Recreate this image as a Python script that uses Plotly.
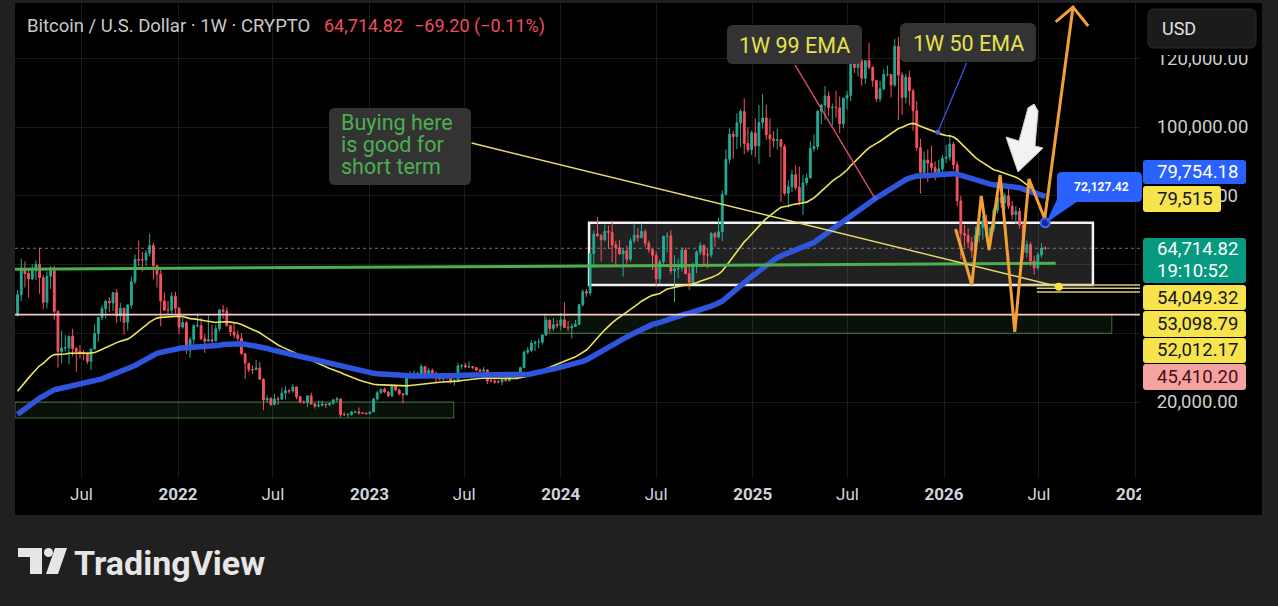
import pandas as pd
import plotly.graph_objects as go

# ---------------- weekly BTC/USD candles (values in thousand USD) ----------------
first_week = "2021-03-01"
first_open_k = 45.2

close_2021 = [51.2, 59.0, 57.4, 55.8, 58.2, 60.0, 56.2, 49.0, 56.6, 58.2,
              46.4, 34.7, 35.7, 35.8, 39.1, 35.5, 34.7, 34.2, 34.2, 31.8,
              35.4, 39.9, 44.6, 47.1, 49.3, 48.8, 51.8, 45.0, 47.3, 43.2,
              48.2, 55.0, 61.5, 61.3, 61.3, 63.3, 65.5, 59.7, 57.2, 49.4,
              46.7, 46.7, 50.8, 47.3]
high_2021 = [52.6, 61.7, 60.9, 58.4, 60.1, 61.2, 64.9, 57.0, 58.0, 59.5,
             59.6, 46.6, 40.8, 39.5, 39.3, 41.3, 36.1, 36.6, 35.1, 34.6,
             35.5, 42.6, 44.8, 48.1, 49.8, 50.5, 52.0, 52.9, 48.8, 47.4,
             48.5, 56.5, 62.9, 67.0, 63.7, 64.2, 69.0, 66.3, 59.8, 59.2,
             51.9, 49.4, 51.9, 52.1]
low_2021 = [44.9, 49.3, 53.3, 50.4, 55.5, 55.5, 51.5, 47.0, 47.2, 52.9,
            43.8, 30.0, 31.2, 34.7, 31.0, 33.3, 28.8, 32.7, 32.1, 31.0,
            29.3, 35.3, 37.5, 43.8, 44.4, 46.3, 46.5, 43.0, 43.4, 39.6,
            40.8, 47.1, 54.3, 59.6, 58.0, 59.5, 62.3, 55.6, 53.3, 42.0,
            46.5, 45.6, 45.6, 45.7]

close_2022 = [41.8, 43.1, 35.1, 38.2, 42.2, 42.2, 38.4, 37.7, 38.1, 37.8,
              41.3, 46.8, 46.4, 42.2, 40.4, 39.5, 38.5, 34.1, 31.3, 29.4,
              29.4, 29.9, 26.6, 20.6, 21.0, 19.3, 20.9, 20.8, 22.6, 23.3,
              23.2, 24.4, 21.5, 20.0, 19.8, 21.8, 19.4, 18.8, 19.0, 19.4,
              19.2, 19.6, 20.6, 20.9, 16.3, 16.3, 16.4, 17.1, 17.1, 16.8,
              16.8, 16.6]
high_2022 = [47.6, 44.5, 43.5, 38.9, 42.6, 45.8, 44.5, 39.8, 45.4, 42.5,
             42.4, 47.0, 48.2, 47.5, 42.4, 42.9, 40.8, 40.0, 34.3, 30.7,
             30.6, 32.2, 31.6, 26.9, 21.9, 21.5, 22.4, 21.6, 24.2, 24.6,
             23.7, 25.2, 24.4, 21.8, 20.5, 21.8, 22.7, 19.7, 20.4, 20.4,
             19.5, 19.7, 21.0, 21.5, 21.0, 17.1, 16.8, 17.3, 17.4, 18.4,
             17.0, 16.9]
low_2022 = [39.7, 41.3, 34.0, 32.9, 36.3, 41.7, 38.0, 34.3, 37.5, 37.2,
            37.6, 40.5, 44.2, 42.0, 39.2, 38.5, 37.7, 33.7, 26.7, 28.7,
            28.1, 29.3, 26.6, 17.6, 19.8, 18.8, 19.0, 19.2, 20.8, 20.7,
            22.4, 22.7, 20.8, 19.6, 19.6, 18.5, 19.3, 18.1, 18.5, 19.0,
            18.2, 18.7, 19.2, 20.1, 15.6, 16.0, 15.5, 16.0, 16.7, 16.3,
            16.5, 16.4]

close_2023 = [17.1, 20.9, 22.7, 23.7, 22.9, 21.8, 24.6, 23.5, 22.4, 22.1,
              28.0, 27.9, 28.2, 28.3, 30.3, 27.6, 29.2, 28.4, 26.9, 26.7,
              28.1, 27.1, 25.9, 26.3, 30.5, 30.6, 30.2, 30.3, 30.0, 29.3,
              29.0, 29.3, 26.1, 26.1, 25.8, 25.8, 26.5, 26.2, 27.9, 27.9,
              27.1, 30.0, 34.5, 35.0, 37.1, 37.4, 37.4, 39.5, 43.8, 41.4,
              42.5, 42.3]
high_2023 = [17.2, 21.1, 23.3, 23.9, 24.2, 23.2, 25.2, 25.1, 23.9, 22.6,
             28.4, 28.9, 29.2, 28.8, 31.0, 30.5, 30.0, 29.8, 28.8, 27.6,
             28.2, 28.4, 27.4, 26.8, 31.4, 31.0, 31.4, 31.8, 30.4, 30.0,
             29.7, 30.2, 29.5, 26.8, 28.1, 26.4, 26.9, 27.5, 28.0, 28.6,
             28.0, 30.3, 35.0, 35.9, 38.0, 37.9, 38.4, 39.7, 44.7, 44.0,
             44.4, 43.8]
low_2023 = [16.5, 17.1, 20.4, 22.3, 22.6, 21.4, 21.4, 23.1, 21.9, 19.6,
            21.9, 26.6, 26.6, 27.3, 28.2, 27.1, 26.9, 27.7, 25.8, 26.3,
            25.9, 26.5, 25.4, 24.8, 26.2, 29.6, 29.8, 29.9, 29.6, 28.9,
            28.6, 28.7, 25.2, 25.8, 25.3, 25.4, 24.9, 26.0, 26.0, 27.2,
            26.6, 26.9, 29.9, 33.9, 34.5, 34.8, 35.6, 36.7, 39.2, 40.2,
            40.6, 41.5]

close_2024 = [43.9, 41.7, 41.6, 42.0, 42.6, 48.3, 52.1, 51.7, 63.1, 68.9,
              68.4, 67.2, 69.6, 69.4, 65.7, 64.9, 63.1, 64.0, 61.5, 66.9,
              68.5, 67.8, 69.6, 66.2, 64.3, 62.7, 55.8, 60.8, 68.2, 68.3,
              58.1, 58.7, 59.0, 64.2, 57.3, 54.8, 59.9, 63.6, 65.6, 62.8,
              62.8, 69.0, 68.0, 69.5, 80.4, 90.6, 97.9, 97.2, 101.2, 104.5,
              95.2, 93.4, 98.3]
high_2024 = [45.9, 49.0, 43.6, 42.8, 43.9, 48.6, 52.8, 52.9, 64.0, 70.0,
             73.8, 68.9, 71.6, 71.3, 72.8, 66.9, 67.2, 64.7, 65.5, 67.7,
             71.9, 70.6, 71.9, 70.2, 66.9, 64.5, 63.8, 61.4, 68.4, 69.4,
             70.0, 62.7, 61.8, 65.0, 64.9, 59.8, 60.6, 64.1, 66.5, 65.6,
             64.5, 69.5, 69.5, 73.6, 81.5, 93.5, 99.6, 98.9, 104.0, 105.2,
             108.3, 99.9, 99.0]
low_2024 = [40.8, 41.5, 40.6, 38.5, 41.8, 42.5, 47.7, 50.6, 50.9, 59.0,
            68.0, 60.8, 66.6, 64.5, 60.7, 59.7, 62.8, 56.5, 60.2, 60.7,
            66.1, 66.6, 67.6, 65.1, 63.4, 58.4, 53.5, 54.3, 59.7, 63.5,
            57.1, 49.1, 56.1, 57.9, 57.2, 52.6, 54.6, 57.5, 62.7, 59.8,
            58.9, 62.0, 65.1, 67.5, 66.8, 80.2, 89.4, 90.8, 93.6, 94.2,
            92.2, 92.6, 91.9]

close_2025 = [94.5, 101.3, 102.6, 97.7, 96.5, 96.1, 96.3, 94.3, 80.7, 82.6,
              86.1, 82.4, 78.4, 83.8, 85.2, 93.7, 94.3, 104.6, 106.4, 109.0,
              105.6, 105.7, 105.6, 100.9, 108.4, 109.2, 119.1, 117.3, 119.4, 114.2,
              119.3, 117.4, 113.5, 108.2, 111.1, 115.3, 115.3, 112.2, 123.5, 115.1,
              108.6, 114.5, 110.5, 104.7, 94.0, 86.8, 90.4, 89.5, 88.2, 86.3,
              87.8, 90.9]
high_2025 = [102.5, 106.4, 109.6, 106.5, 102.5, 98.8, 99.5, 96.5, 95.0, 84.5,
             87.5, 88.8, 88.5, 86.1, 86.5, 95.8, 97.9, 104.9, 106.8, 111.9,
             110.4, 106.8, 110.5, 108.9, 108.5, 110.5, 119.5, 123.2, 120.2, 119.8,
             119.4, 124.5, 117.6, 113.8, 113.4, 116.7, 117.9, 115.4, 125.6, 126.2,
             115.9, 115.5, 116.4, 111.2, 107.5, 96.6, 92.9, 93.5, 94.6, 90.0,
             90.5, 91.8]
low_2025 = [91.2, 89.2, 99.5, 96.2, 91.2, 94.1, 93.4, 78.2, 80.0, 76.6,
            81.1, 81.6, 77.2, 74.5, 83.1, 85.1, 92.8, 93.4, 100.7, 102.1,
            103.1, 100.4, 102.7, 98.2, 99.6, 105.1, 107.5, 115.7, 114.7, 112.0,
            112.6, 116.8, 111.7, 107.3, 107.3, 110.7, 114.7, 108.6, 111.6, 102.0,
            103.5, 106.9, 106.3, 98.9, 93.0, 80.6, 85.3, 84.0, 87.0, 84.5,
            85.9, 86.6]

close_2026 = [91.2, 95.0, 89.0, 78.5, 69.0, 68.5, 66.5, 64.0, 68.5, 70.8,
              72.8, 68.0, 70.5, 75.8, 79.5, 78.0, 80.0, 77.0, 74.5, 75.5,
              71.5, 63.5, 65.8, 61.0, 59.0, 62.8, 64.78402, 64.71482]
high_2026 = [94.8, 97.8, 95.6, 90.0, 80.0, 71.5, 70.5, 68.0, 71.0, 72.5,
             74.0, 74.5, 71.0, 76.5, 80.5, 81.8, 80.8, 82.5, 78.5, 77.0,
             76.5, 72.5, 67.0, 66.5, 62.5, 63.5, 66.2, 65.3]
low_2026 = [89.5, 90.2, 87.6, 77.0, 61.5, 65.0, 64.8, 62.0, 63.0, 66.5,
            67.2, 66.5, 65.5, 69.5, 74.8, 76.5, 76.0, 76.2, 73.0, 71.8,
            70.5, 61.5, 62.0, 59.5, 57.0, 58.5, 62.0, 64.2]

# EMA settings (value of each EMA just before the first visible candle)
ema_fast_len, ema_fast_seed = 50, 22000
ema_slow_len, ema_slow_seed = 99, 15700

# axis ticks (40k / 60k labels sit hidden behind the price labels in the reference)
y_ticks = [20000, 40000, 60000, 80000, 100000, 120000]
y_tick_labels = ["20,000.00", "", "", "80,000.00", "100,000.00", "120,000.00"]
x_tick_dates = ["2021-07-01", "2022-01-01", "2022-07-01", "2023-01-01", "2023-07-01",
                "2024-01-01", "2024-07-01", "2025-01-01", "2025-07-01", "2026-01-01",
                "2026-07-01", "2027-01-01"]
x_tick_labels = ["Jul", "2022", "Jul", "2023", "Jul", "2024", "Jul", "2025", "Jul",
                 "2026", "Jul", "2027"]
X_START, X_END = "2021-02-24 02:00", "2027-01-09 19:00"
Y_MIN, Y_MAX = -2109, 136073

# drawing levels / anchors
last_price = 64714.82
range_box_dates = ["2024-02-24", "2026-10-12"]
range_box_prices = [54049.32, 72127.42]
green_zone_dates = ["2023-12-01", "2026-11-17"]
green_zone_prices = [40000, 45410.20]
low_zone_dates = [X_START, "2023-06-11"]
low_zone_prices = [15350, 20000]
pink_level = 45410.20
yellow_levels = [54049.32, 53098.79, 52012.17]
yellow_level_starts = ["2026-05-26", "2026-06-27", "2026-06-27"]
trend_green_dates = [X_START, "2026-08-02"]
trend_green_prices = [58620, 60370]
buy_line_dates = ["2023-07-15", "2026-08-08"]
buy_line_prices = [95340, 53540]
projection_dates = ["2026-01-23", "2026-02-23", "2026-03-13", "2026-03-28", "2026-04-18",
                    "2026-05-16", "2026-06-12", "2026-07-12", "2026-09-04"]
projection_prices = [70330, 54049.32, 79925, 64217, 86034, 40400, 84870, 73300, 134900]
arrow_head_dates = ["2026-08-02", "2026-09-04", "2026-10-03"]
arrow_head_prices = [130600, 134900, 129380]
ema99_note_dates = ["2025-03-23", "2025-08-22"]
ema99_note_prices = [118000, 79300]
ema50_note_dates = ["2026-02-13", "2025-12-20"]
ema50_note_prices = [118600, 98500]
marker_date, marker_price = "2026-07-13", 72127.42

# right-hand price labels: (text, text colour, background)
price_labels = [
    ("79,754.18", "#ffffff", "#2962ff"),
    ("79,515", "#131722", "#f7e34b"),
    ("64,714.82", "#ffffff", "#089981"),
    ("54,049.32", "#131722", "#f7e34b"),
    ("53,098.79", "#131722", "#f7e34b"),
    ("52,012.17", "#131722", "#f7e34b"),
    ("45,410.20", "#4a0d12", "#f4a3a3"),
]
countdown_text = "19:10:52"

# ---------------- build series ----------------
closes = [v * 1000 for v in close_2021 + close_2022 + close_2023 + close_2024 + close_2025 + close_2026]
highs = [v * 1000 for v in high_2021 + high_2022 + high_2023 + high_2024 + high_2025 + high_2026]
lows = [v * 1000 for v in low_2021 + low_2022 + low_2023 + low_2024 + low_2025 + low_2026]
opens = [first_open_k * 1000] + closes[:-1]
weeks = pd.date_range(first_week, periods=len(closes), freq="7D")


def ema(values, length, seed):
    a = 2.0 / (length + 1)
    out, e = [], seed
    for v in values:
        e = e + a * (v - e)
        out.append(e)
    return out


ema_fast = ema(closes, ema_fast_len, ema_fast_seed)
ema_slow = ema(closes, ema_slow_len, ema_slow_seed)

# ---------------- layout helpers (pixel -> paper) ----------------
W, H = 1278, 606
PL, PR, PT, PB = 15, 1140, 3, 478


def fx(px):
    return (px - PL) / (PR - PL)


def fy(py):
    return (PB - py) / (PB - PT)


def rrect(x0, y0, x1, y1, r):
    X, Y = fx, fy
    return (f"M {X(x0 + r)},{Y(y0)} L {X(x1 - r)},{Y(y0)} Q {X(x1)},{Y(y0)} {X(x1)},{Y(y0 + r)} "
            f"L {X(x1)},{Y(y1 - r)} Q {X(x1)},{Y(y1)} {X(x1 - r)},{Y(y1)} "
            f"L {X(x0 + r)},{Y(y1)} Q {X(x0)},{Y(y1)} {X(x0)},{Y(y1 - r)} "
            f"L {X(x0)},{Y(y0 + r)} Q {X(x0)},{Y(y0)} {X(x0 + r)},{Y(y0)} Z")


def poly(pts):
    return "M " + " L ".join(f"{fx(a)},{fy(b)}" for a, b in pts) + " Z"


FONT = "Roboto"
fig = go.Figure()

# current price dotted line
fig.add_trace(go.Scatter(x=[X_START, X_END], y=[last_price, last_price], mode="lines",
                         line=dict(color="rgba(150,150,150,0.75)", width=1, dash="dot"),
                         hoverinfo="skip", showlegend=False))

fig.add_trace(go.Candlestick(
    x=weeks, open=opens, high=highs, low=lows, close=closes,
    increasing=dict(line=dict(color="#22ab94", width=1), fillcolor="#22ab94"),
    decreasing=dict(line=dict(color="#f7525f", width=1), fillcolor="#f7525f"),
    whiskerwidth=0, hoverinfo="skip", showlegend=False))

fig.add_trace(go.Scatter(x=weeks, y=ema_fast, mode="lines", line=dict(color="#efe35a", width=1.6),
                         hoverinfo="skip", showlegend=False))
fig.add_trace(go.Scatter(x=weeks, y=ema_slow, mode="lines", line=dict(color="#2f55dc", width=5.5),
                         hoverinfo="skip", showlegend=False))

# horizontal levels / trend lines
fig.add_trace(go.Scatter(x=trend_green_dates, y=trend_green_prices, mode="lines",
                         line=dict(color="#4caf50", width=3), hoverinfo="skip", showlegend=False))
fig.add_trace(go.Scatter(x=[X_START, X_END], y=[pink_level, pink_level], mode="lines",
                         line=dict(color="#f6c9c9", width=1.8), hoverinfo="skip", showlegend=False))
for d0, lv in zip(yellow_level_starts, yellow_levels):
    fig.add_trace(go.Scatter(x=[d0, X_END], y=[lv, lv], mode="lines",
                             line=dict(color="#d9cc82", width=1.6), hoverinfo="skip", showlegend=False))
fig.add_trace(go.Scatter(x=buy_line_dates, y=buy_line_prices, mode="lines",
                         line=dict(color="#e9dc6a", width=1.4), hoverinfo="skip", showlegend=False))
fig.add_trace(go.Scatter(x=[buy_line_dates[1]], y=[buy_line_prices[1]], mode="markers",
                         marker=dict(color="#f5e33b", size=8), hoverinfo="skip", showlegend=False))

# EMA pointer lines
fig.add_trace(go.Scatter(x=ema99_note_dates, y=ema99_note_prices, mode="lines",
                         line=dict(color="#e0506a", width=1.3), hoverinfo="skip", showlegend=False))
fig.add_trace(go.Scatter(x=ema50_note_dates, y=ema50_note_prices, mode="lines",
                         line=dict(color="#3b55e6", width=1.3), hoverinfo="skip", showlegend=False))
fig.add_trace(go.Scatter(x=[ema99_note_dates[1], ema50_note_dates[1]],
                         y=[ema99_note_prices[1], ema50_note_prices[1]], mode="markers",
                         marker=dict(color="#4a5fe0", size=5), hoverinfo="skip", showlegend=False))

# projected path
fig.add_trace(go.Scatter(x=projection_dates, y=projection_prices, mode="lines",
                         line=dict(color="#f2a033", width=3), hoverinfo="skip", showlegend=False))
fig.add_trace(go.Scatter(x=arrow_head_dates, y=arrow_head_prices, mode="lines",
                         line=dict(color="#f2a033", width=3), hoverinfo="skip", showlegend=False))

# blue marker point
fig.add_trace(go.Scatter(x=[marker_date], y=[marker_price], mode="markers",
                         marker=dict(color="#1b2a8a", size=9, line=dict(color="#3d6bff", width=2)),
                         hoverinfo="skip", showlegend=False))

shapes = []
# panel background
shapes.append(dict(type="rect", xref="paper", yref="paper", x0=fx(15), x1=fx(1262), y0=fy(515), y1=fy(3),
                   fillcolor="#000000", line=dict(width=0), layer="below"))
# zones
shapes.append(dict(type="rect", xref="x", yref="y", x0=low_zone_dates[0], x1=low_zone_dates[1],
                   y0=low_zone_prices[0], y1=low_zone_prices[1],
                   fillcolor="rgba(76,175,80,0.10)", line=dict(color="rgba(90,140,90,0.75)", width=1),
                   layer="between"))
shapes.append(dict(type="rect", xref="x", yref="y", x0=green_zone_dates[0], x1=green_zone_dates[1],
                   y0=green_zone_prices[0], y1=green_zone_prices[1],
                   fillcolor="rgba(76,175,80,0.10)", line=dict(color="rgba(90,140,90,0.75)", width=1),
                   layer="between"))
shapes.append(dict(type="rect", xref="x", yref="y", x0=range_box_dates[0], x1=range_box_dates[1],
                   y0=range_box_prices[0], y1=range_box_prices[1],
                   fillcolor="rgba(150,150,150,0.22)", line=dict(color="#f2f2f2", width=2.5),
                   layer="between"))

# cover overflow of last time label and top of price scale
shapes.append(dict(type="rect", xref="paper", yref="paper", x0=fx(1141), x1=fx(1262), y0=fy(514), y1=fy(479),
                   fillcolor="#000000", line=dict(width=0), layer="above"))
shapes.append(dict(type="rect", xref="paper", yref="paper", x0=fx(1143), x1=fx(1262), y0=fy(55), y1=fy(3),
                   fillcolor="#000000", line=dict(width=0), layer="above"))
# USD button
shapes.append(dict(type="path", xref="paper", yref="paper", path=rrect(1148, 9, 1256, 48, 6),
                   fillcolor="#1b1b1b", line=dict(color="#2a2a2a", width=1), layer="above"))

# text boxes
shapes.append(dict(type="path", xref="paper", yref="paper", path=rrect(329, 108, 471, 185, 6),
                   fillcolor="#333333", line=dict(width=0), layer="above"))
shapes.append(dict(type="path", xref="paper", yref="paper", path=rrect(727, 25, 862, 64, 6),
                   fillcolor="#333333", line=dict(width=0), layer="above"))
shapes.append(dict(type="path", xref="paper", yref="paper", path=rrect(900, 23, 1036, 62, 6),
                   fillcolor="#333333", line=dict(width=0), layer="above"))

# white arrow
shapes.append(dict(type="path", xref="paper", yref="paper",
                   path=poly([(1028, 108), (1034, 104), (1038, 111), (1035, 146), (1043, 148),
                              (1018, 172), (1006, 137), (1019, 141)]),
                   fillcolor="#f2f2f2", line=dict(color="#cfcfcf", width=1), layer="above"))

# blue callout
shapes.append(dict(type="path", xref="paper", yref="paper",
                   path=poly([(1059, 195), (1078, 201), (1046, 223)]),
                   fillcolor="#2962ff", line=dict(width=0), layer="above"))
shapes.append(dict(type="path", xref="paper", yref="paper", path=rrect(1057, 172, 1142, 202, 5),
                   fillcolor="#2962ff", line=dict(width=0), layer="above"))

# price label backgrounds
label_boxes = [(160, 184, 1246), (186, 212, 1221), (238, 283, 1246), (285, 310, 1246),
               (311, 337, 1246), (338, 363, 1246), (364, 390, 1246)]
for (t, b, r), (_, _, bg) in zip(label_boxes, price_labels):
    shapes.append(dict(type="path", xref="paper", yref="paper", path=rrect(1143, t, r, b, 3),
                       fillcolor=bg, line=dict(width=0), layer="above"))

# TradingView logo icon
shapes.append(dict(type="path", xref="paper", yref="paper",
                   path=poly([(18, 548), (42, 548), (42, 574), (30, 574), (30, 557), (18, 557)]),
                   fillcolor="#e6e6e6", line=dict(width=0), layer="above"))
shapes.append(dict(type="circle", xref="paper", yref="paper", x0=fx(44), x1=fx(53), y0=fy(557), y1=fy(548),
                   fillcolor="#e6e6e6", line=dict(width=0), layer="above"))
shapes.append(dict(type="path", xref="paper", yref="paper",
                   path=poly([(55, 548), (67, 548), (58, 574), (46, 574)]),
                   fillcolor="#e6e6e6", line=dict(width=0), layer="above"))

ann = []


def text(px, py, s, size, color, anchor="left", bold=False):
    ann.append(dict(xref="paper", yref="paper", x=fx(px), y=fy(py), text=(f"<b>{s}</b>" if bold else s),
                    showarrow=False, xanchor=anchor, yanchor="middle",
                    font=dict(family=FONT, size=size, color=color)))


text(25, 26, "Bitcoin / U.S. Dollar · 1W · CRYPTO", 18.5, "#c9c9c9")
text(322, 26, "64,714.82", 18, "#ef4d5f")
text(412, 26, "−69.20 (−0.11%)", 18, "#ef4d5f")
text(1160, 28, "USD", 18, "#e0e0e0")

text(339, 122, "Buying here", 21.5, "#4caf50")
text(339, 144, "is good for", 21.5, "#4caf50")
text(339, 166, "short term", 21.5, "#4caf50")
text(794.5, 45, "1W 99 EMA", 21.5, "#e6e14d", anchor="center")
text(968, 43, "1W 50 EMA", 21.5, "#e6e14d", anchor="center")
text(1101, 187, f"{marker_price:,.2f}", 12, "#ffffff", anchor="center", bold=True)

label_centers = [172, 199, 249, 298, 324, 350, 377]
for cy, (s, col, _) in zip(label_centers, price_labels):
    text(1155, cy, s, 18.5, col)
text(1155, 271, countdown_text, 18.5, "#ffffff")

text(72, 563, "TradingView", 34, "#e6e6e6", bold=True)

fig.update_layout(
    width=W, height=H,
    margin=dict(l=PL, r=W - PR, t=PT, b=H - PB),
    paper_bgcolor="#202020", plot_bgcolor="#000000",
    showlegend=False, hovermode=False,
    shapes=shapes, annotations=ann,
    xaxis=dict(type="date", range=[X_START, X_END], rangeslider=dict(visible=False),
               tickmode="array", tickvals=x_tick_dates,
               ticktext=[(f"<b>{t}</b>" if t != "Jul" else t) for t in x_tick_labels],
               tickfont=dict(family=FONT, size=17, color="#d1d4dc"),
               ticks="outside", ticklen=1, tickcolor="rgba(0,0,0,0)",
               showgrid=True, gridcolor="#1a1a1a", gridwidth=1, zeroline=False, showline=False,
               fixedrange=True),
    yaxis=dict(side="right", range=[Y_MIN, Y_MAX], tickmode="array", tickvals=y_ticks,
               ticktext=y_tick_labels, tickfont=dict(family=FONT, size=18.5, color="#cfcfcf"),
               ticks="outside", ticklen=12, tickcolor="rgba(0,0,0,0)",
               showgrid=True, gridcolor="#1a1a1a", gridwidth=1, zeroline=False, showline=False,
               fixedrange=True),
)

fig.write_html("out.html")
